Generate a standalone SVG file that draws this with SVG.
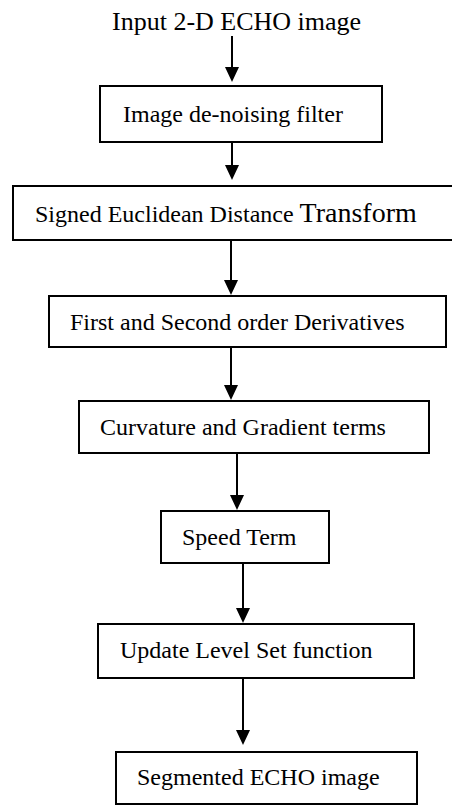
<svg xmlns="http://www.w3.org/2000/svg" width="452" height="807" viewBox="0 0 452 807">
<style>
.box{fill:#fff;stroke:#000;stroke-width:2}
.lbl{font-family:"Liberation Serif","Times New Roman",serif;font-size:24px;fill:#000}
.con{stroke:#000;stroke-width:2;fill:none;marker-end:url(#ah)}
</style>
<defs>
<marker id="ah" viewBox="0 0 15 14" refX="5" refY="7" markerWidth="15" markerHeight="14" markerUnits="userSpaceOnUse" orient="auto">
<path d="M0,0 L15,7 L0,14 z" fill="#000"/>
</marker>
</defs>
<rect width="452" height="807" fill="#fff"/>
<g id="connectors">
<line class="con" x1="232" y1="36" x2="232" y2="72"/>
<line class="con" x1="232" y1="142" x2="232" y2="170"/>
<line class="con" x1="231" y1="240" x2="231" y2="285"/>
<line class="con" x1="231" y1="347" x2="231" y2="390"/>
<line class="con" x1="237" y1="453" x2="237" y2="500"/>
<line class="con" x1="243" y1="563" x2="243" y2="613"/>
<line class="con" x1="243" y1="678" x2="243" y2="735"/>
</g>
<g id="input">
<text class="lbl" x="112" y="30" style="font-size:26px">Input 2-D ECHO image</text>
</g>
<g id="denoise">
<rect class="box" x="100" y="86" width="282" height="56"/>
<text class="lbl" x="123" y="122">Image de-noising filter</text>
</g>
<g id="sedt">
<rect class="box" x="13" y="186" width="450" height="54"/>
<text class="lbl" x="35" y="222">Signed Euclidean Distance <tspan style="font-size:28px">Transform</tspan></text>
</g>
<g id="derivatives">
<rect class="box" x="49" y="296" width="397" height="51"/>
<text class="lbl" x="70" y="330">First and Second order Derivatives</text>
</g>
<g id="curvature">
<rect class="box" x="79" y="401" width="350" height="52"/>
<text class="lbl" x="100" y="435">Curvature and Gradient terms</text>
</g>
<g id="speed">
<rect class="box" x="161" y="511" width="168" height="52"/>
<text class="lbl" x="182" y="545">Speed Term</text>
</g>
<g id="update">
<rect class="box" x="98" y="624" width="316" height="54"/>
<text class="lbl" x="120" y="658">Update Level Set function</text>
</g>
<g id="segmented">
<rect class="box" x="116" y="752" width="301" height="52"/>
<text class="lbl" x="137" y="785">Segmented ECHO image</text>
</g>
</svg>
